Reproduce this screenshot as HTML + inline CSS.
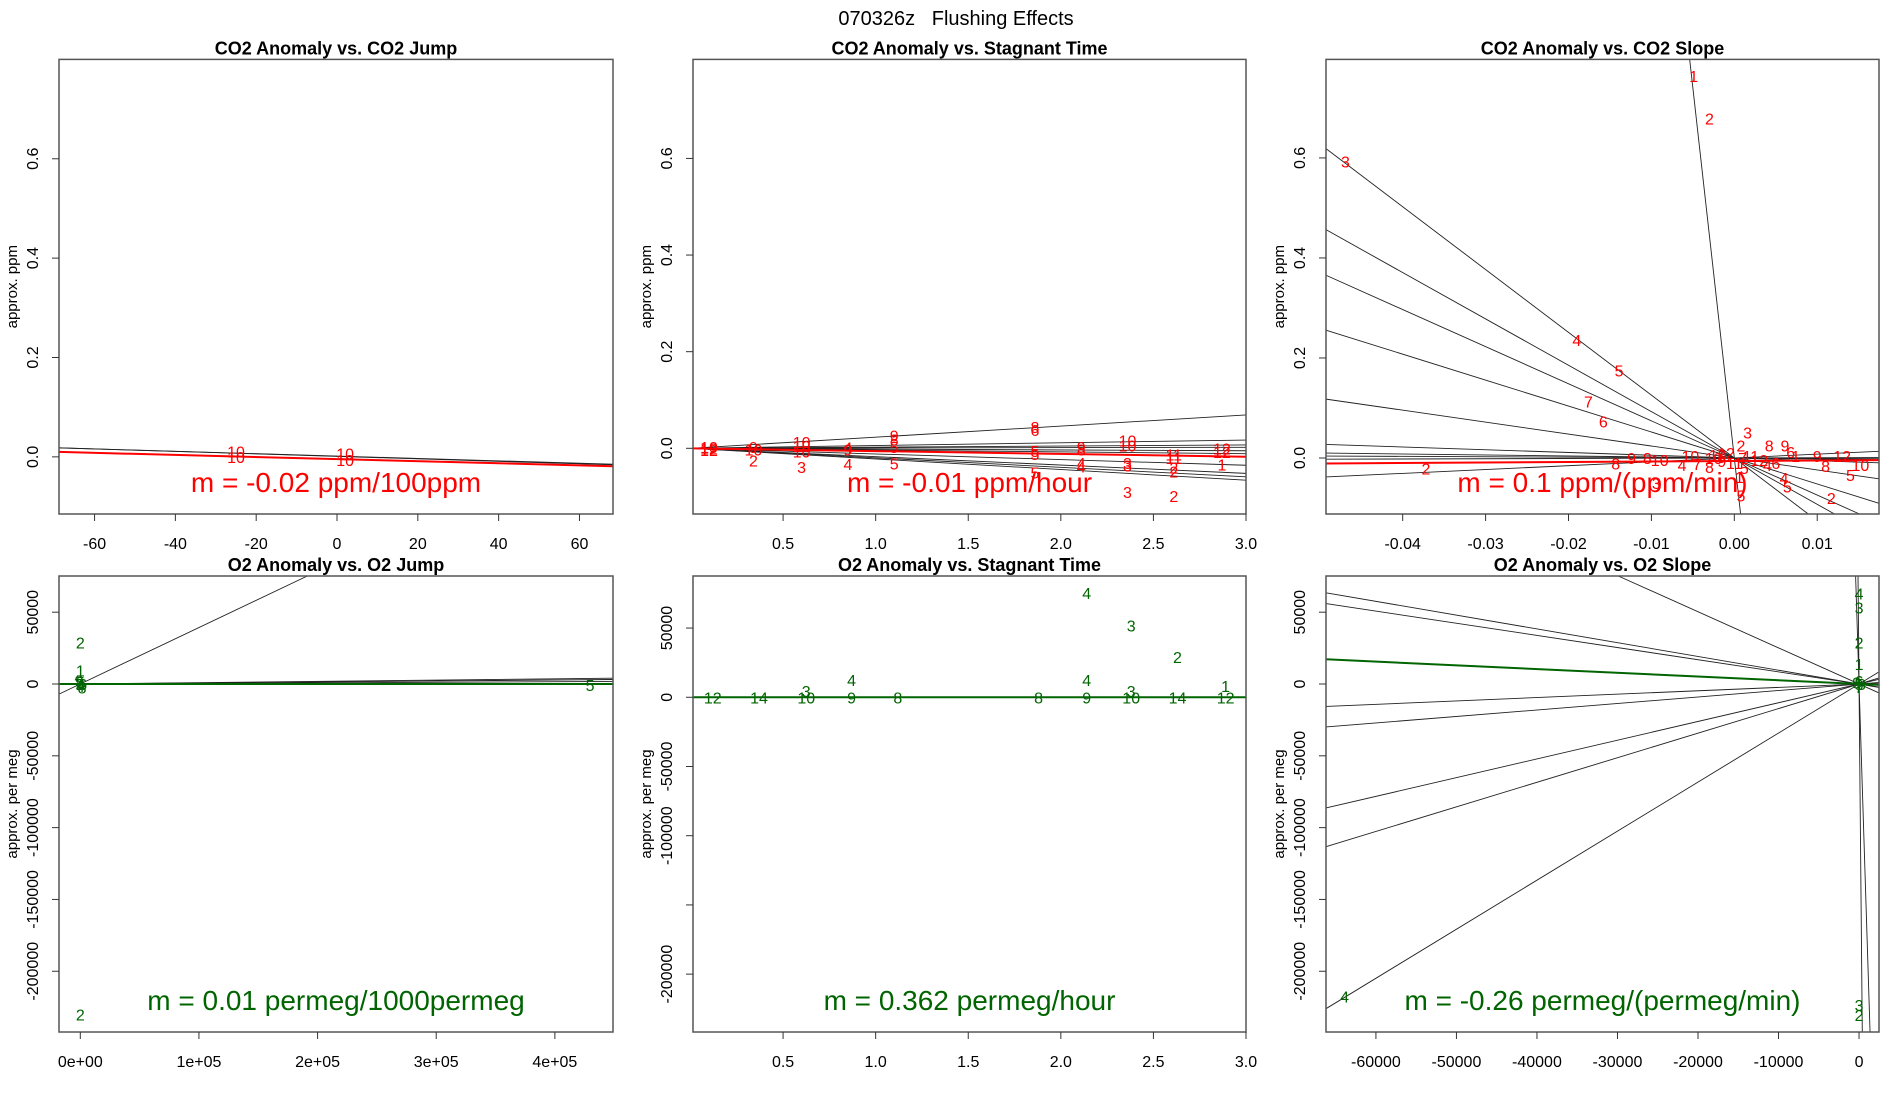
<!DOCTYPE html>
<html><head><meta charset="utf-8"><style>
html,body{margin:0;padding:0;background:#fff;width:1900px;height:1100px;overflow:hidden;}
svg{display:block;font-family:"Liberation Sans",sans-serif;}
</style></head><body>
<svg id="chart" width="1900" height="1100" viewBox="0 0 1900 1100" xmlns="http://www.w3.org/2000/svg">
<rect width="1900" height="1100" fill="#fff"/>
<text x="956" y="25" font-size="20" text-anchor="middle" style="white-space:pre">070326z   Flushing Effects</text>
</svg>
<script>
// ---- Panel 1: CO2 Anomaly vs CO2 Jump ----
const p1LineSlopes=[-0.00024,-0.00025];
const p1LineIntercepts=[0.0016,0.0010];
const p1FitSlope=-0.00021, p1FitIntercept=-0.0045;
const p1LabelX=[-25,-25,2,2];
const p1LabelY=[0.011,0.0,0.007,-0.006];
const p1LabelText=['10','10','10','10'];
const p1XTicks=[-60,-40,-20,0,20,40,60];
const p1XTickLabels=['-60','-40','-20','0','20','40','60'];
const p1YTicks=[0,0.2,0.4,0.6];
const p1YTickLabels=['0.0','0.2','0.4','0.6'];

// ---- Panel 2: CO2 Anomaly vs Stagnant Time ----
const p2LineSlopes=[0.023,0.0057,0.0023,0.0007,-0.0017,-0.0037,-0.0117,-0.0173,-0.0197,-0.022];
const p2FitSlope=-0.0058, p2FitIntercept=0;
const p2LabelX=[0.1,0.1,0.1,0.34,0.34,0.34,0.6,0.6,0.6,0.6,0.85,0.85,0.85,1.1,1.1,1.1,1.1,1.86,1.86,1.86,1.86,1.86,2.11,2.11,2.11,2.11,2.36,2.36,2.36,2.36,2.36,2.61,2.61,2.61,2.61,2.61,2.87,2.87,2.87];
const p2LabelY=[0.0,-0.004,0.003,0.003,-0.003,-0.025,0.013,0.005,-0.007,-0.039,0.002,-0.002,-0.032,0.027,0.018,0.003,-0.031,0.044,0.038,-0.006,-0.012,-0.05,0.003,-0.003,-0.030,-0.038,0.016,0.006,-0.030,-0.036,-0.09,-0.013,-0.02,-0.040,-0.048,-0.099,0.0,-0.008,-0.034];
const p2LabelText=['12','12','10','9','10','2','10','10','10','3','4','9','4','9','8','5','5','8','6','5','5','5','9','8','4','4','10','10','3','3','3','11','11','2','2','2','12','12','1'];
const p2XTicks=[0.5,1.0,1.5,2.0,2.5,3.0];
const p2XTickLabels=['0.5','1.0','1.5','2.0','2.5','3.0'];
const p2YTicks=[0,0.2,0.4,0.6];
const p2YTickLabels=['0.0','0.2','0.4','0.6'];

// ---- Panel 3: CO2 Anomaly vs CO2 Slope ----
const p3LineSlopes=[-148,-12.56,-9.27,-7.42,-5.19,-2.39,-0.55,-0.08,0.77,0.05,-0.2];
const p3FitSlope=0.1, p3FitIntercept=-0.006;
const p3LabelX=[-0.0049,-0.003,-0.0469,-0.019,-0.0139,-0.0176,-0.0158,0.0016,0.0008,-0.0372,-0.0143,-0.0124,-0.0105,-0.009,-0.0063,-0.0053,-0.0045,-0.0094,0.0042,0.0061,0.0068,0.0074,0.01,0.011,0.013,0.0152,0.014,0.0117,0.0064,0.0060,0.0008,0.0006,-0.002,-0.0015,-0.001,0.0,0.001,0.002,0.003,0.004,0.005,-0.003,-0.0025,0.0012];
const p3LabelY=[0.764,0.679,0.593,0.236,0.175,0.113,0.073,0.051,0.025,-0.021,-0.011,0.0,0.0,-0.004,-0.014,0.004,-0.012,-0.05,0.025,0.025,0.012,0.004,0.004,-0.016,0.004,-0.014,-0.034,-0.08,-0.057,-0.040,-0.075,-0.038,0.006,-0.006,0.01,-0.01,0.0,0.004,-0.004,-0.014,-0.01,-0.018,0.0,-0.02];
const p3LabelText=['1','2','3','4','5','7','6','3','2','2','8','9','8','10','4','10','7','3','8','9','6','1','9','8','12','10','5','2','5','4','5','1','10','9','12','11','7','11','12','4','6','8','10','5'];
const p3XTicks=[-0.04,-0.03,-0.02,-0.01,0.0,0.01];
const p3XTickLabels=['-0.04','-0.03','-0.02','-0.01','0.00','0.01'];
const p3YTicks=[0,0.2,0.4,0.6];
const p3YTickLabels=['0.0','0.2','0.4','0.6'];

// ---- Panel 4: O2 Anomaly vs O2 Jump ----
const p4LineSlopes=[0.393,0.009,0.007,0.004];
const p4FitSlope=0.00001, p4FitIntercept=0;
const p4LabelX=[0,0,0,429700,0,0,0,2000,-1500,1500,-1000];
const p4LabelY=[29000,9300,-230000,-700,0,-1500,1500,0,0,-2500,2500];
const p4LabelText=['2','1','2','5','3','4','5','6','7','8','9'];
const p4XTicks=[0,100000,200000,300000,400000];
const p4XTickLabels=['0e+00','1e+05','2e+05','3e+05','4e+05'];
const p4YTicks=[50000,0,-50000,-100000,-150000,-200000];
const p4YTickLabels=['50000','0','-50000','-100000','-150000','-200000'];

// ---- Panel 5: O2 Anomaly vs Stagnant Time ----
const p5LineSlopes=[0.0,0.0,0.0];
const p5FitSlope=0.362, p5FitIntercept=0;
const p5LabelX=[2.14,2.38,2.63,0.87,2.14,2.89,0.625,2.38,0.12,0.37,0.625,0.87,1.12,1.88,2.14,2.38,2.63,2.89];
const p5LabelY=[75400,51700,29000,12400,12400,8000,4400,4400,0,0,0,0,0,0,0,0,0,0];
const p5LabelText=['4','3','2','4','4','1','3','3','12','14','10','9','8','8','9','10','14','12'];
const p5XTicks=[0.5,1.0,1.5,2.0,2.5,3.0];
const p5XTickLabels=['0.5','1.0','1.5','2.0','2.5','3.0'];
const p5YTicks=[50000,0,-50000,-100000,-150000,-200000];
const p5YTickLabels=['50000','0','-50000','-100000','','-200000'];

// ---- Panel 6: O2 Anomaly vs O2 Slope ----
const p6LineSlopes=[-600,-177,-2.515,-0.959,-0.846,0.236,0.452,1.304,1.711,3.415];
const p6FitSlope=-0.26, p6FitIntercept=0;
const p6LabelX=[-63900,0,0,0,0,0,0,0,0,0,300,-300];
const p6LabelY=[-217600,62900,53200,28900,13900,-223400,-230300,0,2000,-2000,0,1000];
const p6LabelText=['4','4','3','2','1','3','2','5','6','7','8','9'];
const p6XTicks=[-60000,-50000,-40000,-30000,-20000,-10000,0];
const p6XTickLabels=['-60000','-50000','-40000','-30000','-20000','-10000','0'];
const p6YTicks=[50000,0,-50000,-100000,-150000,-200000];
const p6YTickLabels=['50000','0','-50000','-100000','-150000','-200000'];

const svgRoot=document.getElementById('chart');
const SVGNS='http://www.w3.org/2000/svg';
function mk(tag,attrs,parent){const e=document.createElementNS(SVGNS,tag);for(const k in attrs)e.setAttribute(k,attrs[k]);(parent||svgRoot).appendChild(e);return e;}

// clip line y=b+m*x to panel data rectangle; returns [xa,xb] or null
function clipRange(g,b,m){
  let lo=g.xmin, hi=g.xmax;
  if(m!==0){
    let xa=(g.ymin-b)/m, xb=(g.ymax-b)/m;
    if(xa>xb){const t=xa;xa=xb;xb=t;}
    lo=Math.max(lo,xa); hi=Math.min(hi,xb);
  } else if(b<g.ymin||b>g.ymax) return null;
  return lo<hi?[lo,hi]:null;
}

function drawPanel(id,g,title,yTitle,color,fitText,slopes,intercepts,fitSlope,fitIntercept,lx,ly,lt,xt,xtl,yt,ytl){
  const sx=v=>g.x0+(v-g.xmin)/(g.xmax-g.xmin)*(g.x1-g.x0);
  const sy=v=>g.y1-(v-g.ymin)/(g.ymax-g.ymin)*(g.y1-g.y0);
  const grp=mk('g',{});
  
  
  const t=mk('text',{x:(g.x0+g.x1)/2,y:g.y0-5,'font-size':18,'font-weight':'bold','text-anchor':'middle'},grp);
  t.textContent=title;
  
  
  const yl=mk('text',{transform:'translate('+(g.x0-42)+','+((g.y0+g.y1)/2)+') rotate(-90)','font-size':15,'text-anchor':'middle'},grp);
  yl.textContent=yTitle;
  
  
  const plot=mk('g',{},grp);
  for(let i=0;i<slopes.length;i++){
    const b=intercepts?intercepts[i]:0;
    const r=clipRange(g,b,slopes[i]); if(!r) continue;
    const ln=mk('line',{x1:sx(r[0]),y1:sy(b+slopes[i]*r[0]),x2:sx(r[1]),y2:sy(b+slopes[i]*r[1]),stroke:'#222','stroke-width':0.9},plot);
    
    
  }
  for(let i=0;i<lx.length;i++){
    const tx=mk('text',{x:sx(lx[i]),y:sy(ly[i])+6,'font-size':16,fill:color,'text-anchor':'middle'},plot);
    tx.textContent=lt[i];
    
    
  }
  const fr=clipRange(g,fitIntercept,fitSlope);
  if(fr){
    const fl=mk('line',{x1:sx(fr[0]),y1:sy(fitIntercept+fitSlope*fr[0]),x2:sx(fr[1]),y2:sy(fitIntercept+fitSlope*fr[1]),stroke:color,'stroke-width':2},plot);
    
    
  }
  const mt=mk('text',{x:(g.x0+g.x1)/2,y:g.mty,'font-size':28,fill:color,'text-anchor':'middle'},grp);
  mt.textContent=fitText;
  
  
  const box=mk('rect',{x:g.x0,y:g.y0,width:g.x1-g.x0,height:g.y1-g.y0,fill:'none',stroke:'#555','stroke-width':1.5},grp);
  
  
  for(let i=0;i<xt.length;i++){
    const x=sx(xt[i]);
    mk('line',{x1:x,y1:g.y1,x2:x,y2:g.y1+7,stroke:'#333','stroke-width':1},grp);
    const tl=mk('text',{x:x,y:g.y1+35,'font-size':16,'text-anchor':'middle'},grp);
    tl.textContent=xtl[i];
    
    
  }
  for(let i=0;i<yt.length;i++){
    const y=sy(yt[i]);
    mk('line',{x1:g.x0,y1:y,x2:g.x0-7,y2:y,stroke:'#333','stroke-width':1},grp);
    if(ytl[i]){
      const tl=mk('text',{transform:'translate('+(g.x0-21)+','+y+') rotate(-90)','font-size':16,'text-anchor':'middle'},grp);
      tl.textContent=ytl[i];
      
      
    }
  }
}
const RED='#ff0000', GRN='#006400';
const rowTop={y0:59.4,y1:514,mty:492}, rowBot={y0:576,y1:1032,mty:1010};
const col1={x0:59,x1:613}, col2={x0:693,x1:1246}, col3={x0:1326,x1:1879};
drawPanel('co2-jump',Object.assign({},col1,rowTop,{xmin:-68.8,xmax:68.3,ymin:-0.115,ymax:0.8}),'CO2 Anomaly vs. CO2 Jump','approx. ppm',RED,'m = -0.02 ppm/100ppm',p1LineSlopes,p1LineIntercepts,p1FitSlope,p1FitIntercept,p1LabelX,p1LabelY,p1LabelText,p1XTicks,p1XTickLabels,p1YTicks,p1YTickLabels);
drawPanel('co2-stagnant',Object.assign({},col2,rowTop,{xmin:0.0135,xmax:3.0,ymin:-0.136,ymax:0.805}),'CO2 Anomaly vs. Stagnant Time','approx. ppm',RED,'m = -0.01 ppm/hour',p2LineSlopes,null,p2FitSlope,p2FitIntercept,p2LabelX,p2LabelY,p2LabelText,p2XTicks,p2XTickLabels,p2YTicks,p2YTickLabels);
drawPanel('co2-slope',Object.assign({},col3,rowTop,{xmin:-0.04925,xmax:0.01745,ymin:-0.112,ymax:0.797}),'CO2 Anomaly vs. CO2 Slope','approx. ppm',RED,'m = 0.1 ppm/(ppm/min)',p3LineSlopes,null,p3FitSlope,p3FitIntercept,p3LabelX,p3LabelY,p3LabelText,p3XTicks,p3XTickLabels,p3YTicks,p3YTickLabels);
drawPanel('o2-jump',Object.assign({},col1,rowBot,{xmin:-17950,xmax:449000,ymin:-242300,ymax:75200}),'O2 Anomaly vs. O2 Jump','approx. per meg',GRN,'m = 0.01 permeg/1000permeg',p4LineSlopes,null,p4FitSlope,p4FitIntercept,p4LabelX,p4LabelY,p4LabelText,p4XTicks,p4XTickLabels,p4YTicks,p4YTickLabels);
drawPanel('o2-stagnant',Object.assign({},col2,rowBot,{xmin:0.0135,xmax:3.0,ymin:-241800,ymax:87600}),'O2 Anomaly vs. Stagnant Time','approx. per meg',GRN,'m = 0.362 permeg/hour',p5LineSlopes,null,p5FitSlope/100000,p5FitIntercept,p5LabelX,p5LabelY,p5LabelText,p5XTicks,p5XTickLabels,p5YTicks,p5YTickLabels);
drawPanel('o2-slope',Object.assign({},col3,rowBot,{xmin:-66200,xmax:2480,ymin:-242300,ymax:75200}),'O2 Anomaly vs. O2 Slope','approx. per meg',GRN,'m = -0.26 permeg/(permeg/min)',p6LineSlopes,null,p6FitSlope,p6FitIntercept,p6LabelX,p6LabelY,p6LabelText,p6XTicks,p6XTickLabels,p6YTicks,p6YTickLabels);
</script>
</body></html>
